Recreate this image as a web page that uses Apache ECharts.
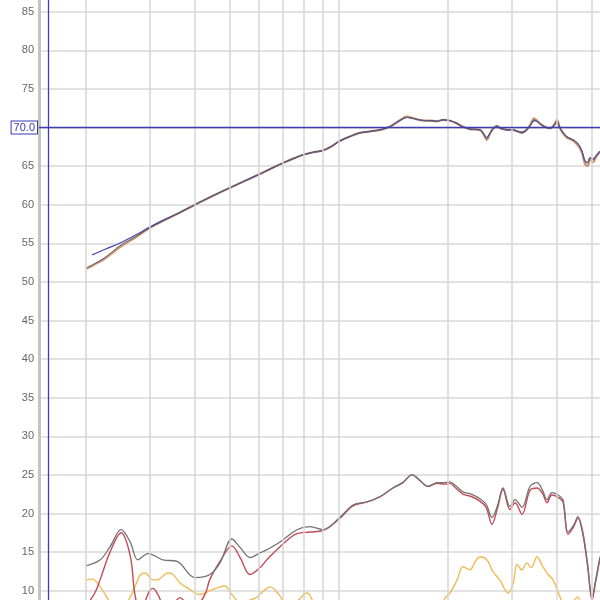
<!DOCTYPE html>
<html><head><meta charset="utf-8">
<script src="https://cdn.jsdelivr.net/npm/echarts@6/dist/echarts.min.js"></script>
<style>html,body{margin:0;padding:0;background:#fff}#c{width:600px;height:600px}</style>
</head><body><div id="c"></div>
<script>
// ---- data (frequency in Hz, level in dB) ----
const gridFreqs = [20, 30, 40, 50, 60, 70, 80, 90, 100, 200, 300, 400, 500];
const refLevel = 70;
const cursorFreq = 15.76;

const topFreq = [20, 21, 22.5, 25, 27.5, 30, 33, 36, 40, 45, 50, 55, 60, 65, 70, 75, 80, 85, 90, 95, 100, 108, 114, 122, 130, 138, 146, 154, 160, 166, 172, 178, 186, 194, 202, 210, 220, 230, 245, 250, 256, 261, 266, 273, 279, 284, 292, 302, 311, 320, 328, 337, 346, 352, 359, 370, 383, 392, 400, 408, 418, 426, 443, 455, 463, 470, 478, 486, 494, 503, 512, 526];
const topGray = [51.8, 52.3, 53.1, 54.8, 55.9, 57.0, 58.0, 58.9, 60.0, 61.2, 62.2, 63.1, 63.9, 64.7, 65.4, 66.0, 66.5, 66.8, 67.0, 67.5, 68.2, 68.9, 69.3, 69.5, 69.7, 70.1, 70.8, 71.3, 71.2, 71.0, 70.9, 70.9, 70.8, 71.0, 70.9, 70.6, 70.1, 69.8, 69.7, 69.3, 68.6, 69.2, 69.8, 70.2, 69.9, 69.8, 69.7, 69.7, 69.5, 69.3, 69.6, 70.2, 71.0, 70.8, 70.5, 70.1, 69.9, 70.2, 70.8, 69.9, 69.2, 68.8, 68.4, 68.0, 67.5, 66.8, 65.6, 65.4, 66.1, 65.8, 66.3, 66.9];
const topBrown = [51.7, 52.2, 53.0, 54.6, 55.8, 57.0, 58.0, 58.9, 60.0, 61.2, 62.2, 63.1, 63.9, 64.7, 65.4, 66.0, 66.5, 66.8, 67.0, 67.5, 68.2, 68.9, 69.3, 69.5, 69.7, 70.1, 70.8, 71.4, 71.2, 71.0, 70.9, 70.9, 70.8, 71.0, 70.9, 70.6, 70.1, 69.8, 69.7, 69.2, 68.4, 69.2, 69.8, 70.2, 69.9, 69.8, 69.7, 69.7, 69.5, 69.3, 69.6, 70.3, 71.2, 70.9, 70.5, 70.1, 69.9, 70.3, 71.0, 69.9, 69.1, 68.7, 68.3, 67.8, 67.3, 66.6, 65.3, 65.0, 65.9, 65.5, 66.1, 66.9];
const blueFreq = [20.8, 22.5, 25, 27.5, 30, 33, 36, 40, 45, 50, 55, 60, 65, 70, 75, 80, 85, 90, 95, 100, 108, 114, 122, 130, 138, 146, 154, 160, 166, 172, 178, 186, 194, 202, 210, 220, 230, 245, 250, 256, 261, 266, 273, 279, 284, 292, 302, 311, 320, 328, 337, 346, 352, 359, 370, 383, 392, 400, 408, 418, 426, 443, 455, 463, 470, 478, 486, 494, 503, 512, 526];
const blueVals = [53.5, 54.2, 55.1, 56.1, 57.1, 58.1, 58.9, 60.0, 61.2, 62.2, 63.1, 63.9, 64.7, 65.4, 66.0, 66.5, 66.8, 67.0, 67.5, 68.2, 68.9, 69.3, 69.5, 69.7, 70.1, 70.8, 71.3, 71.2, 71.0, 70.9, 70.9, 70.8, 71.0, 70.9, 70.6, 70.1, 69.8, 69.7, 69.3, 68.7, 69.2, 69.8, 70.1, 69.9, 69.8, 69.7, 69.7, 69.5, 69.4, 69.6, 70.2, 70.9, 70.8, 70.5, 70.1, 69.9, 70.2, 70.7, 69.9, 69.2, 68.8, 68.4, 68.0, 67.5, 66.8, 65.7, 65.5, 66.1, 65.9, 66.3, 66.9];

const botGrayFreq = [20, 21.9, 23.3, 25, 26.5, 27.8, 29.7, 32.6, 35.7, 40, 44, 46.9, 50.6, 53.3, 56.8, 60.5, 63.2, 68.7, 76.5, 83.1, 90.3, 100.6, 109.3, 119.5, 130, 140.9, 150, 159.1, 168, 176.1, 186.5, 196.2, 202.5, 210, 220, 232, 245, 255, 264.6, 274, 283.8, 296.8, 306.4, 320.3, 336.9, 352.4, 365, 375.4, 387.5, 402.6, 415.6, 429, 445, 457, 472, 486, 500, 512, 526];
const botGray = [13.2, 14.0, 15.7, 17.9, 16.3, 14.0, 14.8, 14.0, 13.8, 11.7, 12.1, 13.6, 16.7, 15.6, 14.3, 14.9, 15.3, 16.3, 17.9, 18.3, 17.9, 19.5, 21.1, 21.5, 22.2, 23.3, 24.0, 25.0, 24.2, 23.5, 24.0, 24.0, 24.1, 23.6, 22.8, 22.5, 21.9, 21.2, 19.5, 21.0, 23.3, 20.9, 21.8, 20.8, 23.5, 24.0, 23.0, 21.8, 22.7, 22.4, 21.8, 17.6, 18.5, 19.6, 17.5, 13.5, 9.2, 11.5, 14.4];
const botRedFreq = [20, 21.2, 21.9, 23.3, 25, 26.5, 27.3, 28.2, 30, 30.6, 31.6, 33, 35, 36.4, 38, 40, 42.6, 44, 46.9, 50.6, 53.3, 56.8, 60.5, 63.2, 68.7, 76.5, 83.1, 90.3, 100.6, 109.3, 119.5, 130, 140.9, 150, 159.1, 168, 176.1, 186.5, 196.2, 202.5, 210, 220, 232, 245, 255, 264.6, 274, 283.8, 296.8, 306.4, 320.3, 336.9, 352.4, 365, 375.4, 387.5, 402.6, 415.6, 429, 445, 457, 472, 486, 500, 512, 526];
const botRed = [8.0, 9.8, 11.5, 15.0, 17.5, 14.5, 9.5, 7.5, 10.0, 10.3, 9.5, 8.0, 8.5, 9.1, 8.3, 8.0, 9.5, 11.5, 13.8, 15.8, 14.3, 12.1, 13.0, 14.0, 15.7, 17.4, 17.6, 17.8, 19.4, 21.0, 21.5, 22.2, 23.3, 24.0, 25.0, 24.2, 23.5, 23.9, 23.8, 23.9, 23.3, 22.5, 22.2, 21.6, 20.8, 18.6, 20.7, 23.1, 20.5, 21.4, 19.9, 23.0, 23.3, 22.6, 21.4, 22.4, 22.1, 21.5, 17.3, 18.3, 19.4, 17.2, 13.2, 8.8, 11.2, 14.2];
const botOrangeFreq = [20, 20.8, 21.9, 22.6, 23.3, 24.5, 26, 27.3, 28.2, 29.1, 30.6, 31.4, 33.7, 34.6, 36.4, 38, 41.3, 44, 46.9, 48.4, 50.6, 53.3, 57, 59.4, 62, 64.5, 68.7, 72, 76, 81.6, 85, 90, 100, 150, 190, 196, 202.5, 212, 220, 230, 238, 245, 256, 266, 278, 293, 303, 310, 320, 330, 340, 352, 365, 375, 390, 408, 420, 440, 456, 470, 490];
const botOrange = [11.4, 11.5, 10.5, 9.5, 8.5, 7.5, 8.5, 10.5, 12.0, 12.3, 11.4, 11.4, 12.3, 12.2, 11.0, 10.4, 9.5, 10.0, 10.5, 10.6, 9.5, 8.5, 8.8, 9.2, 10.0, 10.5, 9.3, 8.0, 8.5, 9.7, 8.5, 6.5, 5.5, 5.5, 6.5, 9.0, 9.7, 11.4, 13.1, 12.7, 13.8, 14.4, 14.0, 12.5, 11.4, 9.7, 11.0, 13.4, 12.7, 13.6, 13.0, 14.4, 13.2, 12.3, 11.4, 9.2, 8.0, 8.3, 9.2, 7.5, 6.0];

const yMin = 5, yMax = 90, yStep = 5;

const pairs = (fs, vs) => fs.map((f, i) => [f, vs[i]]);

const chart = echarts.init(document.getElementById('c'), null, {renderer: 'canvas'});
const lineS = (name, data, color, width, z) => ({
  name, type: 'line', data, showSymbol: false, symbol: 'none', smooth: 0.35,
  lineStyle: {color, width}, itemStyle: {color}, z, silent: true
});

chart.setOption({
  animation: false,
  backgroundColor: '#fff',
  grid: {left: 39, right: 0, top: -26.9, bottom: -29.3, containLabel: false, outerBoundsMode: 'none'},
  xAxis: {
    type: 'log', logBase: 10, min: 14.83, max: 526,
    axisLine: {show: false}, axisTick: {show: false}, axisLabel: {show: false},
    splitLine: {show: false}, minorSplitLine: {show: false}
  },
  yAxis: {
    type: 'value', min: yMin, max: yMax, interval: yStep,
    axisLine: {show: true, lineStyle: {color: '#c4c4c4', width: 3}},
    axisTick: {show: false},
    axisLabel: {
      margin: 5, color: '#666', fontSize: 11, fontFamily: 'Liberation Sans, Arial, sans-serif',
      formatter: v => (v === refLevel ? '' : String(v))
    },
    splitLine: {show: true, lineStyle: {color: '#d9d9d9', width: 1.5}}
  },
  series: [
    {
      type: 'line', data: [], silent: true, z: 1,
      markLine: {
        silent: true, symbol: ['none', 'none'], animation: false,
        label: {show: false},
        lineStyle: {color: '#d6d6d6', width: 1.5, type: 'solid'},
        emphasis: {disabled: true},
        data: gridFreqs.map(f => ({xAxis: f}))
      }
    },
    {
      type: 'line', data: [], silent: true, z: 5,
      markLine: {
        silent: true, symbol: ['none', 'none'], animation: false,
        emphasis: {disabled: true},
        lineStyle: {color: '#3d3db0', width: 1.3, type: 'solid'},
        data: [
          {yAxis: refLevel, label: {show: true, position: 'start', distance: 2, formatter: refLevel.toFixed(1),
            color: '#3d3db0', fontSize: 11, fontFamily: 'Liberation Sans, Arial, sans-serif',
            borderColor: '#3d3db0', borderWidth: 1, padding: [1, 2, 0, 2], backgroundColor: '#fff'}},
          {xAxis: cursorFreq, label: {show: false}}
        ]
      }
    },
    lineS('bottom orange', pairs(botOrangeFreq, botOrange), '#f0bb55', 1.4, 3),
    lineS('bottom red', pairs(botRedFreq, botRed), '#c44a55', 1.4, 3),
    lineS('bottom gray', pairs(botGrayFreq, botGray), '#747474', 1.3, 3),
    lineS('top brown', pairs(topFreq, topBrown), '#c99470', 2.2, 3),
    lineS('top blue', pairs(blueFreq, blueVals), '#4545b0', 1.2, 3),
    lineS('top gray', pairs(topFreq, topGray), '#6a5c68', 1.0, 4)
  ]
});
</script>
</body></html>
